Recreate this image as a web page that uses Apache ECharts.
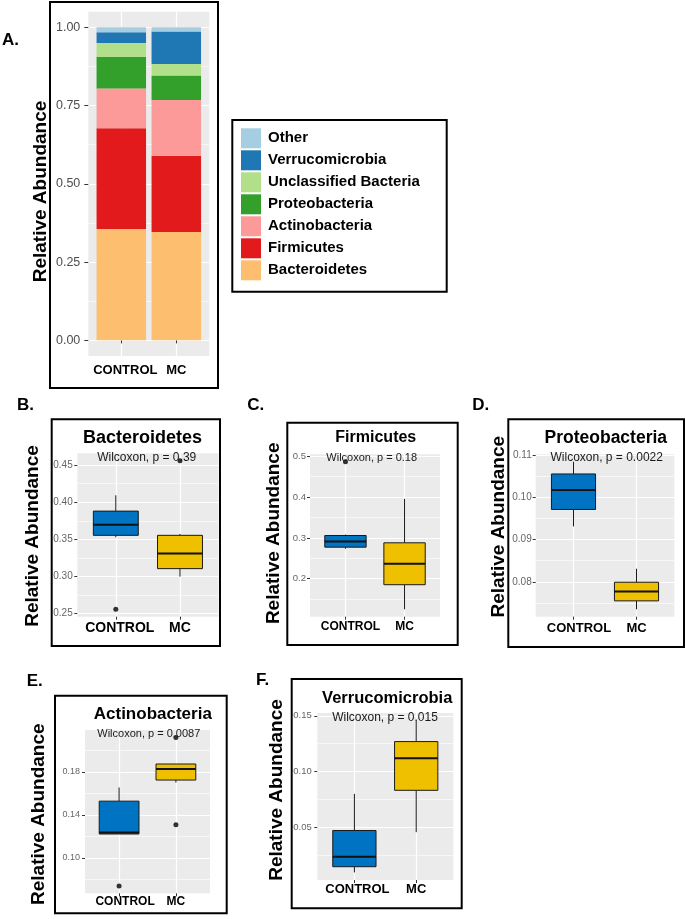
<!DOCTYPE html>
<html>
<head>
<meta charset="utf-8">
<script src="https://cdn.jsdelivr.net/npm/echarts@6/dist/echarts.min.js"></script>
<style>html,body{margin:0;padding:0;background:#fff}#c{width:685px;height:919px}</style>
</head>
<body>
<div id="c"></div>
<script>
// ---------------- DATA ----------------
const categories = ['CONTROL', 'MC'];
// stacking order, bottom to top
const phyla = ['Bacteroidetes', 'Firmicutes', 'Actinobacteria', 'Proteobacteria', 'Unclassified Bacteria', 'Verrucomicrobia', 'Other'];
const legendOrder = ['Other', 'Verrucomicrobia', 'Unclassified Bacteria', 'Proteobacteria', 'Actinobacteria', 'Firmicutes', 'Bacteroidetes'];
const controlAbundance = [0.356, 0.322, 0.127, 0.101, 0.044, 0.034, 0.016];
const mcAbundance = [0.346, 0.244, 0.178, 0.078, 0.037, 0.104, 0.013];
const compositionTicks = [0, 0.25, 0.5, 0.75, 1];
const compositionMinor = [0.125, 0.375, 0.625, 0.875];

// box statistics per group: [min, Q1, median, Q3, max]
const bacteroidetesStats = [[0.3527, 0.3554, 0.3695, 0.3880, 0.4093], [0.2998, 0.3106, 0.3310, 0.3554, 0.3573]];
const bacteroidetesOutliers = [[0, 0.2559], [1, 0.4558]];
const bacteroidetesTicks = [0.25, 0.30, 0.35, 0.40, 0.45];
const bacteroidetesMinor = [0.275, 0.325, 0.375, 0.425];
const bacteroidetesP = 'Wilcoxon, p = 0.39';

const firmicutesStats = [[0.2733, 0.2773, 0.2912, 0.3059, 0.3083], [0.1250, 0.1853, 0.2367, 0.2880, 0.3956]];
const firmicutesOutliers = [[0, 0.4868]];
const firmicutesTicks = [0.2, 0.3, 0.4, 0.5];
const firmicutesMinor = [0.15, 0.25, 0.35, 0.45];
const firmicutesP = 'Wilcoxon, p = 0.18';

const proteobacteriaStats = [[0.0931, 0.0971, 0.1017, 0.1055, 0.1084], [0.0735, 0.0755, 0.0777, 0.0799, 0.0831]];
const proteobacteriaOutliers = [];
const proteobacteriaTicks = [0.08, 0.09, 0.10, 0.11];
const proteobacteriaMinor = [0.075, 0.085, 0.095, 0.105];
const proteobacteriaP = 'Wilcoxon, p = 0.0022';

const actinobacteriaStats = [[0.1222, 0.1222, 0.1235, 0.1527, 0.1654], [0.1700, 0.1723, 0.1825, 0.1872, 0.1872]];
const actinobacteriaOutliers = [[0, 0.0740], [1, 0.2119], [1, 0.1307]];
const actinobacteriaTicks = [0.10, 0.14, 0.18];
const actinobacteriaMinor = [0.08, 0.12, 0.16, 0.20];
const actinobacteriaP = 'Wilcoxon, p = 0.0087';

const verrucoStats = [[0.0098, 0.0149, 0.0239, 0.0473, 0.0801], [0.0458, 0.0833, 0.1119, 0.1269, 0.1457]];
const verrucoOutliers = [];
const verrucoTicks = [0.05, 0.10, 0.15];
const verrucoMinor = [0.025, 0.075, 0.125];
const verrucoP = 'Wilcoxon, p = 0.015';

// ---------------- STYLE / LAYOUT ----------------
const FONT = "'Liberation Sans', Arial, Helvetica, sans-serif";
const phylumColors = {
  'Other': '#A6CEE3', 'Verrucomicrobia': '#1F78B4', 'Unclassified Bacteria': '#B2DF8A',
  'Proteobacteria': '#33A02C', 'Actinobacteria': '#FB9A99', 'Firmicutes': '#E31A1C', 'Bacteroidetes': '#FDBF6F'
};
const boxColors = ['#0073C2', '#EFC000'];

const grids = [], xAxes = [], yAxes = [], series = [], graphics = [];

function dataRange(stats, outliers) {
  let lo = Infinity, hi = -Infinity;
  stats.forEach(s => s.forEach(v => { lo = Math.min(lo, v); hi = Math.max(hi, v); }));
  outliers.forEach(o => { lo = Math.min(lo, o[1]); hi = Math.max(hi, o[1]); });
  const pad = (hi - lo) * 0.05;
  return [lo - pad, hi + pad];
}

function addPanel(p) {
  const [L, T, R, B] = p.gray;
  const w = R - L, h = B - T, unit = w / 2.2;
  const bg = grids.length;
  grids.push({left: L, top: T, width: w, height: h, show: true, backgroundColor: '#EBEBEB', borderWidth: 0, outerBoundsMode: 'none'});
  xAxes.push({gridIndex: bg, type: 'value', min: 0, max: 1, show: false});
  yAxes.push({
    gridIndex: bg, type: 'value', min: p.range[0], max: p.range[1], position: 'left',
    axisLine: {show: false},
    axisTick: {show: true, length: p.tickLen, lineStyle: {color: '#333', width: 1}, customValues: p.ticks},
    axisLabel: {show: true, customValues: p.ticks, formatter: v => Number(v).toFixed(p.dec),
      color: p.labelColor, fontSize: p.labelSize, fontFamily: FONT, margin: p.labelMargin},
    splitLine: {show: true, lineStyle: {color: '#FFFFFF', width: 1.2}},
    minorTick: {show: false}, minorSplitLine: {show: false}
  });
  yAxes.push({
    gridIndex: bg, type: 'value', min: p.range[0], max: p.range[1], position: 'right',
    axisLine: {show: false},
    axisTick: {show: false, customValues: p.minor},
    axisLabel: {show: false, customValues: p.minor},
    splitLine: {show: true, lineStyle: {color: '#FFFFFF', width: 0.6}}
  });
  const dg = grids.length;
  grids.push({left: L + 0.6 * unit, top: T, width: unit, height: h, show: false, outerBoundsMode: 'none'});
  xAxes.push({
    gridIndex: dg, type: 'category', data: categories, boundaryGap: false,
    axisLine: {show: false},
    axisTick: {show: true, length: 3, interval: 0, lineStyle: {color: '#333', width: 1}},
    axisLabel: {show: true, interval: 0, margin: p.xMargin, color: '#000', fontWeight: 'bold', fontSize: p.xSize, fontFamily: FONT,
      formatter: v => v === 'CONTROL' ? '{c|' + v + '}' : '{m|' + v + '}',
      rich: {
        c: {fontWeight: 'bold', fontSize: p.xSize, fontFamily: FONT, color: '#000', padding: [0, 0, 0, p.ctrlShift * 2]},
        m: {fontWeight: 'bold', fontSize: p.xSize, fontFamily: FONT, color: '#000'}
      }},
    splitLine: {show: true, interval: 0, lineStyle: {color: '#FFFFFF', width: 1.2}}
  });
  yAxes.push({gridIndex: dg, type: 'value', min: p.range[0], max: p.range[1], show: false});
  return {xAxisIndex: xAxes.length - 1, yAxisIndex: yAxes.length - 1};
}

function txt(x, y, text, size, weight, align, color, rot) {
  graphics.push({
    type: 'text', x: x, y: y, rotation: rot || 0, z: 10,
    style: {text: text, font: (weight || 'normal') + ' ' + size + 'px ' + FONT, fill: color || '#000',
      align: align || 'center', textAlign: align || 'center', verticalAlign: 'middle', textVerticalAlign: 'middle'}
  });
}
function frame(x1, y1, x2, y2) {
  graphics.push({type: 'rect', z: 10, shape: {x: x1, y: y1, width: x2 - x1, height: y2 - y1},
    style: {fill: 'none', stroke: '#000', lineWidth: 2}});
}

function boxRender(params, api) {
  const i = api.value(0);
  const pMin = api.coord([i, api.value(1)]);
  const pQ1 = api.coord([i, api.value(2)]);
  const pMed = api.coord([i, api.value(3)]);
  const pQ3 = api.coord([i, api.value(4)]);
  const pMax = api.coord([i, api.value(5)]);
  const half = api.size([1, 0])[0] * 0.35;
  const cx = pMed[0];
  return {type: 'group', children: [
    {type: 'line', shape: {x1: cx, y1: pMax[1], x2: cx, y2: pQ3[1]}, style: {stroke: '#1a1a1a', lineWidth: 1}},
    {type: 'line', shape: {x1: cx, y1: pQ1[1], x2: cx, y2: pMin[1]}, style: {stroke: '#1a1a1a', lineWidth: 1}},
    {type: 'rect', shape: {x: cx - half, y: pQ3[1], width: 2 * half, height: pQ1[1] - pQ3[1]},
      style: {fill: boxColors[i], stroke: '#1a1a1a', lineWidth: 1}},
    {type: 'line', shape: {x1: cx - half, y1: pMed[1], x2: cx + half, y2: pMed[1]}, style: {stroke: '#111', lineWidth: 2}}
  ]};
}

// ---------- Panel A ----------
(function () {
  const ax = addPanel({gray: [88.3, 11.7, 209.3, 356], range: [-0.05, 1.05], ticks: compositionTicks, minor: compositionMinor,
    dec: 2, labelSize: 12.5, labelColor: '#4D4D4D', labelMargin: 8, tickLen: 4, xSize: 13, xMargin: 7.5, ctrlShift: 4});
  phyla.forEach((name, k) => {
    series.push({type: 'bar', name: name, stack: 'comp', xAxisIndex: ax.xAxisIndex, yAxisIndex: ax.yAxisIndex,
      barWidth: '90%', clip: false, itemStyle: {color: phylumColors[name]},
      data: [controlAbundance[k], mcAbundance[k]]});
  });
  frame(50, 2, 218, 388);
  txt(2, 40, 'A.', 17, 'bold', 'left');
  txt(40.7, 191.5, 'Relative Abundance', 19, 'bold', 'center', '#000', Math.PI / 2);
  frame(232.3, 120, 446.7, 291.7);
})();

// ---------- Box panels ----------
const boxPanels = [
  {stats: bacteroidetesStats, out: bacteroidetesOutliers, ticks: bacteroidetesTicks, minor: bacteroidetesMinor, p: bacteroidetesP,
   title: 'Bacteroidetes', gray: [77.3, 453.3, 218.5, 616.7], dec: 2, labelSize: 10, labelMargin: 4.6, xSize: 14, xMargin: 4.6, ctrlShift: 4,
   frame: [51.7, 419.3, 220, 646], letter: ['B.', 17, 405.7], titlePos: [142.5, 437.7, 18], pPos: [146.7, 457.3, 12], yTitle: [33, 536]},
  {stats: firmicutesStats, out: firmicutesOutliers, ticks: firmicutesTicks, minor: firmicutesMinor, p: firmicutesP,
   title: 'Firmicutes', gray: [310, 454.3, 440, 616.7], dec: 1, labelSize: 9.5, labelMargin: 4, xSize: 12, xMargin: 4.4, ctrlShift: 5,
   frame: [287.3, 422.7, 457.7, 645], letter: ['C.', 247.3, 405.7], titlePos: [375.8, 437.7, 16], pPos: [371.7, 457.7, 11], yTitle: [273.3, 533.3]},
  {stats: proteobacteriaStats, out: proteobacteriaOutliers, ticks: proteobacteriaTicks, minor: proteobacteriaMinor, p: proteobacteriaP,
   title: 'Proteobacteria', gray: [535.7, 454.3, 674.3, 616.7], dec: 2, labelSize: 10, labelMargin: 4, xSize: 13, xMargin: 5.5, ctrlShift: 5.5,
   frame: [508.3, 419.3, 684, 647], letter: ['D.', 472.3, 405.7], titlePos: [605.8, 437.7, 17.5], pPos: [606.7, 457.7, 12], yTitle: [498.3, 526.7]},
  {stats: actinobacteriaStats, out: actinobacteriaOutliers, ticks: actinobacteriaTicks, minor: actinobacteriaMinor, p: actinobacteriaP,
   title: 'Actinobacteria', gray: [85, 730, 210, 893.3], dec: 2, labelSize: 9, labelMargin: 5, xSize: 12, xMargin: 2.8, ctrlShift: 6,
   frame: [55, 695.7, 226.7, 913.3], letter: ['E.', 26.7, 681.7], titlePos: [152.8, 714, 17], pPos: [148.8, 734.3, 11], yTitle: [38.3, 814.2]},
  {stats: verrucoStats, out: verrucoOutliers, ticks: verrucoTicks, minor: verrucoMinor, p: verrucoP,
   title: 'Verrucomicrobia', gray: [317.3, 713, 453.3, 880], dec: 2, labelSize: 9.5, labelMargin: 5.6, xSize: 13, xMargin: 3.4, ctrlShift: 3,
   frame: [291.7, 679, 461.7, 908.3], letter: ['F.', 256, 680], titlePos: [387.2, 698.3, 16.5], pPos: [385, 717.7, 12], yTitle: [276.7, 790]}
];

boxPanels.forEach(bp => {
  const ax = addPanel({gray: bp.gray, range: dataRange(bp.stats, bp.out), ticks: bp.ticks, minor: bp.minor, dec: bp.dec,
    labelSize: bp.labelSize, labelColor: '#666666', labelMargin: bp.labelMargin, tickLen: 3,
    xSize: bp.xSize, xMargin: bp.xMargin, ctrlShift: bp.ctrlShift});
  series.push({type: 'custom', xAxisIndex: ax.xAxisIndex, yAxisIndex: ax.yAxisIndex, renderItem: boxRender,
    encode: {x: 0, y: [1, 2, 3, 4, 5]},
    data: bp.stats.map((s, i) => [i].concat(s))});
  series.push({type: 'scatter', xAxisIndex: ax.xAxisIndex, yAxisIndex: ax.yAxisIndex, symbolSize: 5, clip: false, z: 5,
    itemStyle: {color: '#000'}, data: bp.out});
  frame(bp.frame[0], bp.frame[1], bp.frame[2], bp.frame[3]);
  txt(bp.letter[1], bp.letter[2], bp.letter[0], 17, 'bold', 'left');
  txt(bp.titlePos[0], bp.titlePos[1], bp.title, bp.titlePos[2], 'bold');
  txt(bp.pPos[0], bp.pPos[1], bp.p, bp.pPos[2], 'normal', 'center', '#1a1a1a');
  txt(bp.yTitle[0], bp.yTitle[1], 'Relative Abundance', 19, 'bold', 'center', '#000', Math.PI / 2);
});

const chart = echarts.init(document.getElementById('c'), null, {renderer: 'canvas'});
chart.setOption({
  animation: false,
  backgroundColor: '#FFFFFF',
  grid: grids, xAxis: xAxes, yAxis: yAxes,
  legend: {
    data: legendOrder, orient: 'vertical', left: 241, top: 128.3, padding: 0,
    itemWidth: 20, itemHeight: 20, itemGap: 2, icon: 'rect', selectedMode: false,
    textStyle: {fontSize: 15, fontWeight: 'bold', color: '#000', fontFamily: FONT, padding: [0, 0, 0, 2]}
  },
  series: series,
  graphic: graphics
});
</script>
</body>
</html>
